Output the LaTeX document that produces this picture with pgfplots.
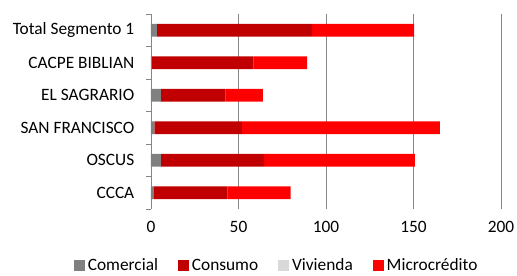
\documentclass[border=0pt]{standalone}
\usepackage{pgfplots}
\pgfplotsset{compat=1.18}
\usepackage{fontspec}
\setmainfont{Carlito}
\definecolor{comc}{HTML}{808080}
\definecolor{conc}{HTML}{C00000}
\definecolor{vivc}{HTML}{D9D9D9}
\definecolor{micc}{HTML}{FF0000}
\definecolor{gridc}{HTML}{868686}
\begin{document}
\begin{tikzpicture}
\path[use as bounding box] (-113.25pt,-49.5pt) rectangle (274.5pt,156.75pt);
\begin{axis}[
  at={(0,0)}, anchor=south west,
  scale only axis, width=262.5pt, height=146.25pt,
  xbar stacked, bar width=9.5pt,
  xmin=0, xmax=200, xtick={0,50,100,150,200},
  ymin=-0.5, ymax=5.5,
  ytick={0,1,2,3,4,5},
  yticklabels={CCCA,OSCUS,SAN FRANCISCO,EL SAGRARIO,CACPE BIBLIAN,Total Segmento 1},
  minor ytick={-0.5,0.5,1.5,2.5,3.5,4.5,5.5},
  tick align=outside,
  major tick length=0pt,
  minor tick length=3.75pt,
  minor tick style={draw=gridc, line width=0.6pt},
  axis x line*=bottom,
  x axis line style={draw=none},
  axis y line*=left,
  y axis line style={draw=gridc, line width=0.6pt, -},
  xmajorgrids, grid style={draw=gridc, line width=0.6pt},
  every tick label/.append style={font=\fontsize{13}{15}\selectfont, text=black},
  yticklabel style={xshift=-9pt},
  xticklabel style={yshift=-6pt},
  /pgf/number format/assume math mode=true,
  legend style={draw=none, fill=none, at={(0.36,-0.29)}, anchor=center, legend columns=-1,
    font=\fontsize{13}{15}\selectfont,
    /tikz/every even column/.append style={column sep=13pt},
    /tikz/every odd column/.append style={column sep=0pt}},
  legend image code/.code={\fill[#1] (0pt,-4.2pt) rectangle (8.4pt,4.2pt);},
  clip=false,
]
\addplot[fill=comc, draw=none] coordinates {(1.3,0) (5.7,1) (1.9,2) (5.7,3) (0.5,4) (3.4,5)};
\addplot[fill=conc, draw=none] coordinates {(42.3,0) (59.0,1) (50.1,2) (36.8,3) (58.0,4) (88.6,5)};
\addplot[fill=vivc, draw=none] coordinates {(0,0) (0,1) (0,2) (0,3) (0,4) (0,5)};
\addplot[fill=micc, draw=none] coordinates {(36.2,0) (86.1,1) (113.0,2) (21.5,3) (30.7,4) (58.4,5)};
\legend{Comercial,Consumo,Vivienda,Microcrédito}
\end{axis}
\end{tikzpicture}
\end{document}
